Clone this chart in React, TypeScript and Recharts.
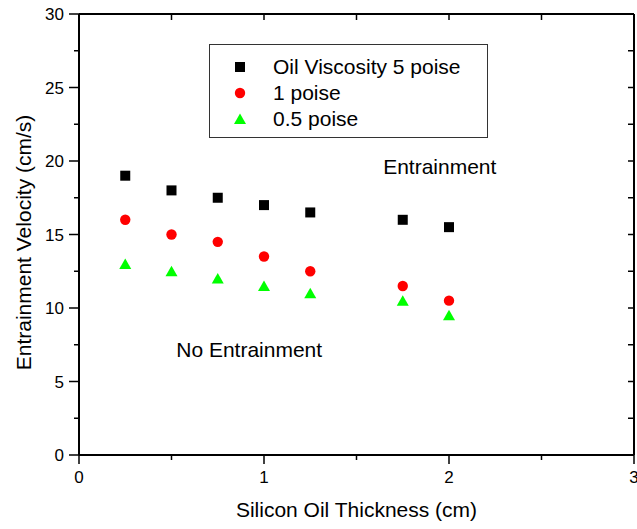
import React from "react";
import {
  ScatterChart,
  Scatter,
  XAxis,
  YAxis,
  Legend,
  ReferenceDot,
} from "recharts";

// ---- data ----
const thickness = [0.25, 0.5, 0.75, 1, 1.25, 1.75, 2];
const poise5 = [19, 18, 17.5, 17, 16.5, 16, 15.5];
const poise1 = [16, 15, 14.5, 13.5, 12.5, 11.5, 10.5];
const poise05 = [13, 12.5, 12, 11.5, 11, 10.5, 9.5];

const xTicks = [0, 0.5, 1, 1.5, 2, 2.5, 3];
const yTicks = [0, 2.5, 5, 7.5, 10, 12.5, 15, 17.5, 20, 22.5, 25, 27.5, 30];

const FONT = "'Liberation Sans', Arial, sans-serif";

const toPoints = (ys: number[]) => thickness.map((x, i) => ({ x, y: ys[i] }));

type Marker = "square" | "circle" | "triangle";

function drawMarker(kind: Marker, cx: number, cy: number, fill: string) {
  if (kind === "square") {
    return <rect x={cx - 5} y={cy - 5} width={10} height={10} fill={fill} />;
  }
  if (kind === "circle") {
    return <circle cx={cx} cy={cy} r={5.2} fill={fill} />;
  }
  return (
    <polygon
      points={`${cx},${cy - 5.5} ${cx + 6},${cy + 5} ${cx - 6},${cy + 5}`}
      fill={fill}
    />
  );
}

const series: { name: string; data: number[]; color: string; marker: Marker }[] = [
  { name: "Oil Viscosity 5 poise", data: poise5, color: "#000000", marker: "square" },
  { name: "1 poise", data: poise1, color: "#ff0000", marker: "circle" },
  { name: "0.5 poise", data: poise05, color: "#00ff00", marker: "triangle" },
];

// bottom axis: outward ticks, labels on whole numbers
const BottomTick = (props: any) => {
  const { x, y, payload } = props;
  const major = Number.isInteger(payload.value);
  return (
    <g>
      <line x1={x} y1={y} x2={x} y2={y + (major ? 9 : 5)} stroke="#000" strokeWidth={1.5} />
      {major && (
        <text x={x} y={y + 28} textAnchor="middle" fontSize={17} fontFamily={FONT} fill="#000">
          {payload.value}
        </text>
      )}
    </g>
  );
};

const LeftTick = (props: any) => {
  const { x, y, payload } = props;
  const major = payload.value % 5 === 0;
  return (
    <g>
      <line x1={x} y1={y} x2={x - (major ? 10 : 5)} y2={y} stroke="#000" strokeWidth={1.5} />
      {major && (
        <text x={x - 15} y={y + 6} textAnchor="end" fontSize={17} fontFamily={FONT} fill="#000">
          {payload.value}
        </text>
      )}
    </g>
  );
};

// top and right frame: short inward ticks, no labels
const TopTick = (props: any) => {
  const { x, y } = props;
  return <line x1={x} y1={y} x2={x} y2={y + 6} stroke="#000" strokeWidth={1.5} />;
};

const RightTick = (props: any) => {
  const { x, y } = props;
  return <line x1={x} y1={y} x2={x - 6} y2={y} stroke="#000" strokeWidth={1.5} />;
};

const YLabel = (props: any) => {
  const { viewBox } = props;
  const x = viewBox.x + 23;
  const y = viewBox.y + viewBox.height / 2 + 8;
  return (
    <text
      x={x}
      y={y}
      transform={`rotate(-90 ${x} ${y})`}
      textAnchor="middle"
      dominantBaseline="central"
      fontSize={21}
      fontFamily={FONT}
      fill="#000"
    >
      Entrainment Velocity (cm/s)
    </text>
  );
};

const LegendBox = () => (
  <div
    style={{
      width: 279,
      height: 94,
      boxSizing: "border-box",
      border: "1px solid #333",
      background: "#fff",
      paddingTop: 9,
      fontFamily: FONT,
      fontSize: 21,
      color: "#000",
    }}
  >
    {series.map((s) => (
      <div key={s.name} style={{ display: "flex", alignItems: "center", height: 26 }}>
        <svg width={60} height={26} style={{ flexShrink: 0 }}>
          {drawMarker(s.marker, 30, 13, s.color)}
        </svg>
        <span style={{ marginLeft: 3, lineHeight: "26px" }}>{s.name}</span>
      </div>
    ))}
  </div>
);

const axisLineStyle = { stroke: "#000", strokeWidth: 2 };

export default function App() {
  return (
    <div style={{ position: "absolute", left: 0, top: 0, background: "#fff" }}>
      <ScatterChart
        width={637}
        height={529}
        margin={{ top: 13, right: 2, bottom: 0, left: 0 }}
      >
        <XAxis
          xAxisId="bottom"
          type="number"
          dataKey="x"
          domain={[0, 3]}
          ticks={xTicks}
          interval={0}
          height={74}
          stroke="#000"
          axisLine={axisLineStyle}
          tickLine={false}
          tickSize={0}
          tickMargin={0}
          tick={<BottomTick />}
          label={{
            value: "Silicon Oil Thickness (cm)",
            position: "insideBottom",
            offset: 12,
            style: { fontSize: 21, fontFamily: FONT, fill: "#000" },
          }}
        />
        <XAxis
          xAxisId="top"
          orientation="top"
          type="number"
          dataKey="x"
          domain={[0, 3]}
          ticks={xTicks}
          interval={0}
          height={1}
          stroke="#000"
          axisLine={axisLineStyle}
          tickLine={false}
          tickSize={0}
          tickMargin={0}
          tick={<TopTick />}
          allowDataOverflow
        />
        <YAxis
          yAxisId="left"
          type="number"
          dataKey="y"
          domain={[0, 30]}
          ticks={yTicks}
          interval={0}
          width={79}
          stroke="#000"
          axisLine={axisLineStyle}
          tickLine={false}
          tickSize={0}
          tickMargin={0}
          tick={<LeftTick />}
          label={<YLabel />}
        />
        <YAxis
          yAxisId="right"
          orientation="right"
          type="number"
          dataKey="y"
          domain={[0, 30]}
          ticks={yTicks}
          interval={0}
          width={1}
          stroke="#000"
          axisLine={axisLineStyle}
          tickLine={false}
          tickSize={0}
          tickMargin={0}
          tick={<RightTick />}
          allowDataOverflow
        />
        <Legend
          layout="vertical"
          align="center"
          verticalAlign="middle"
          wrapperStyle={{ left: 209, top: 44, width: 279, height: 94 }}
          content={<LegendBox />}
        />
        {series.map((s) => (
          <Scatter
            key={s.name}
            name={s.name}
            xAxisId="bottom"
            yAxisId="left"
            data={toPoints(s.data)}
            fill={s.color}
            isAnimationActive={false}
            shape={(p: any) => drawMarker(s.marker, p.cx, p.cy, s.color)}
          />
        ))}
        <ReferenceDot
          xAxisId="bottom"
          yAxisId="left"
          x={1.95}
          y={19.6}
          r={0}
          stroke="none"
          label={{ value: "Entrainment", position: "center", style: { fontSize: 21, fontFamily: FONT, fill: "#000" } }}
        />
        <ReferenceDot
          xAxisId="bottom"
          yAxisId="left"
          x={0.92}
          y={7.2}
          r={0}
          stroke="none"
          label={{ value: "No Entrainment", position: "center", style: { fontSize: 21, fontFamily: FONT, fill: "#000" } }}
        />
      </ScatterChart>
    </div>
  );
}
